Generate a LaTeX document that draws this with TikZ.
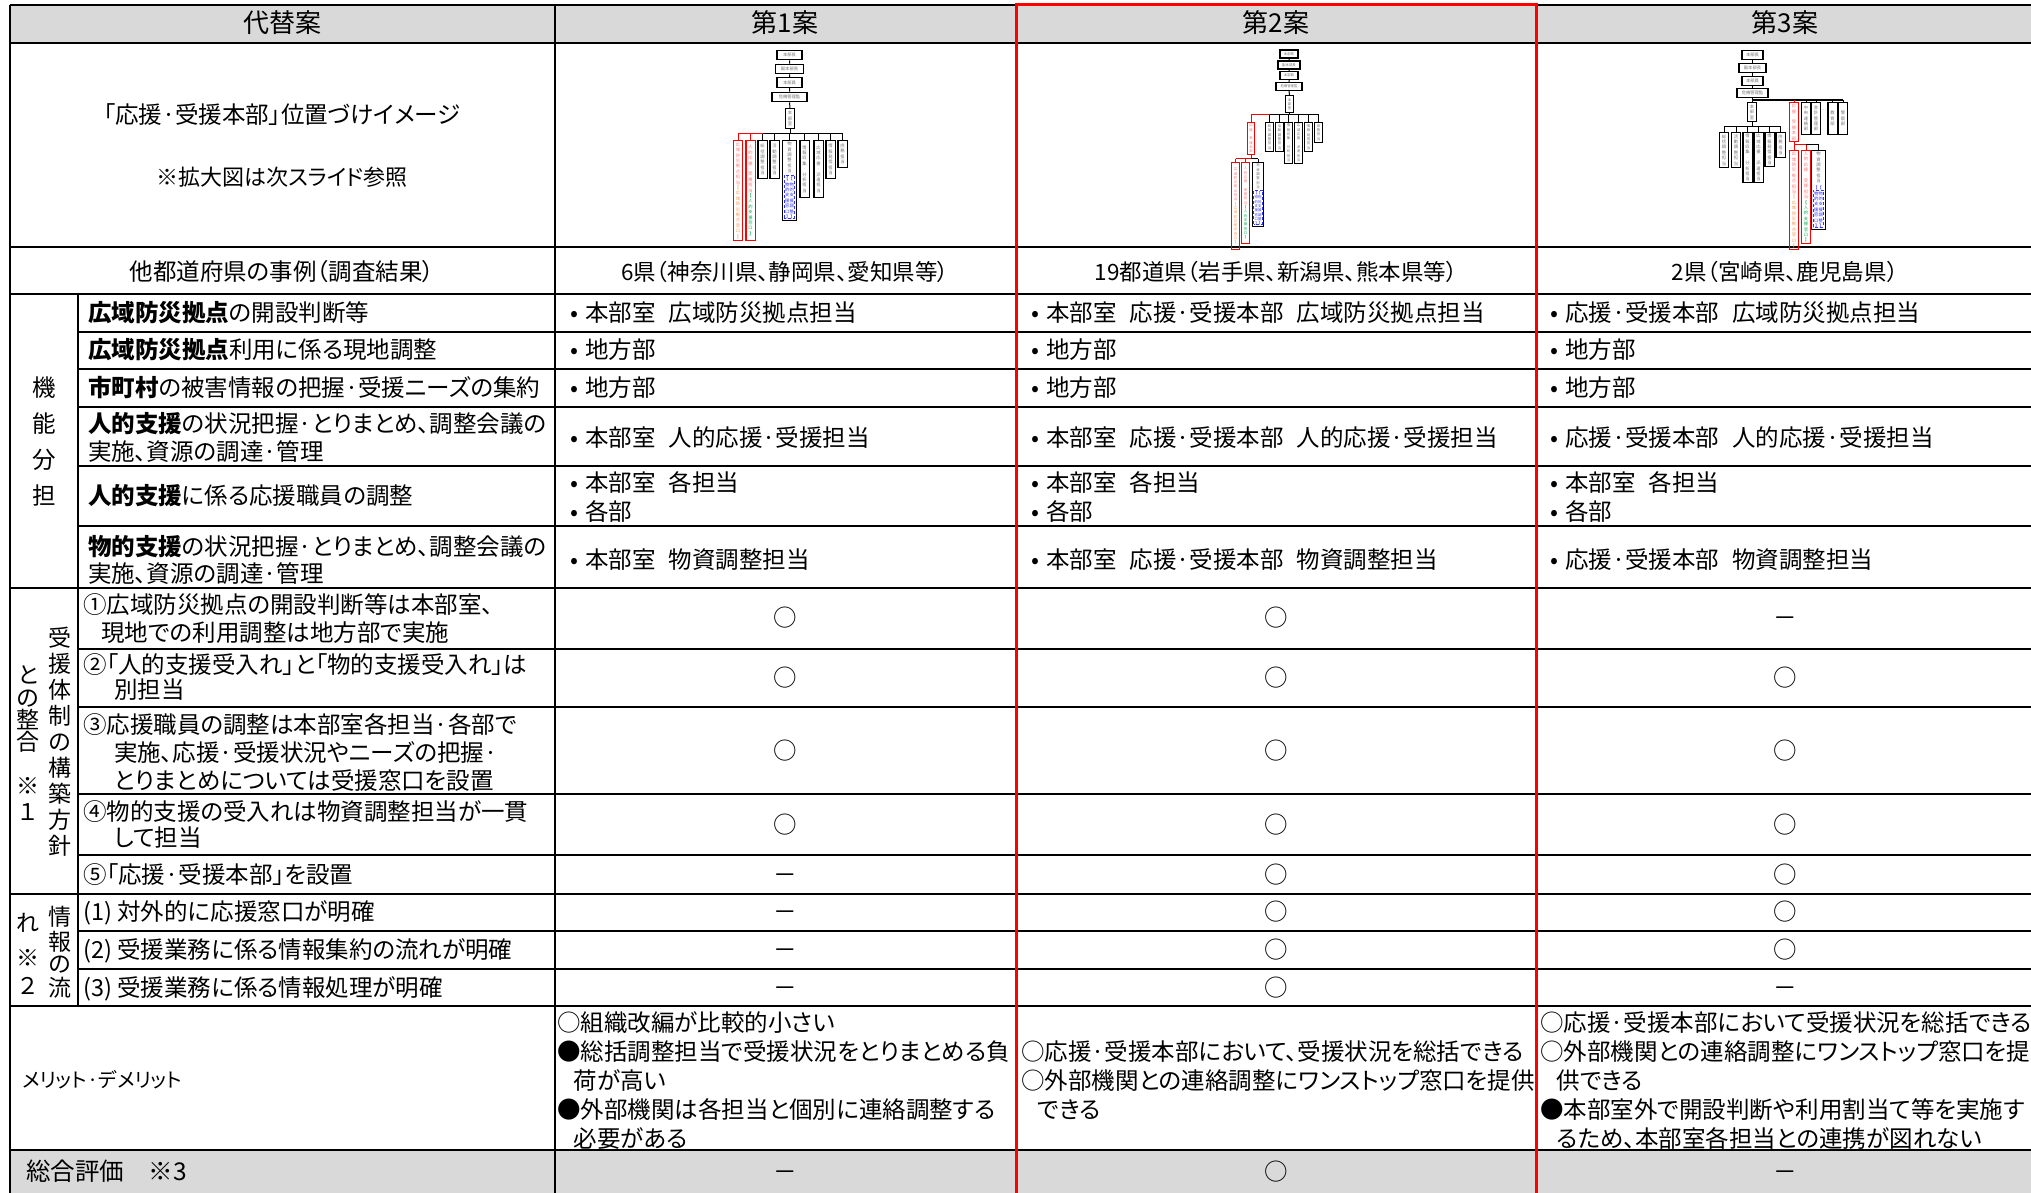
\documentclass[tikz,border=0pt]{standalone}
\usepackage{fontspec}
\setmainfont{Noto Sans CJK JP}[RawFeature={+palt}]
\usetikzlibrary{calc}
\definecolor{hdrgray}{HTML}{D9D9D9}
\definecolor{kyoten}{HTML}{F79646}
\definecolor{jinteki}{HTML}{00B050}
\definecolor{butsublue}{HTML}{3333FF}
\newcommand\gap{\hspace{0.55em}}
\newcommand\bul{•\hspace{0.3em}}
\newcommand\orgfont{\fontsize{4.3}{5.4}\selectfont}
\makeatletter
\def\tatestack#1{\tate@#1\@nil}
\def\tate@#1{\ifx#1\@nil\else\hbox to 1em{\hss#1\hss}\expandafter\tate@\fi}
\makeatother
\newcommand\tatemac[1]{\expandafter\tatestack\expandafter{#1}}
\begin{document}
\begin{tikzpicture}[
    x=1pt, y=-1pt,
    grid/.style={line width=2.6pt},
    redline/.style={line width=3pt, red},
    txt/.style={inner sep=0pt, font=\fontsize{23.5}{28}\selectfont, text height=20.5pt, text depth=3pt},
    lt/.style={txt, anchor=west},
    hd/.style={txt, font=\fontsize{26}{30}\selectfont},
    obox/.style={draw, line width=1.1pt, inner sep=0.8pt, minimum height=9.5, font=\orgfont, text=black!55},
    tbox/.style={draw, line width=1.1pt, inner xsep=2.4pt, inner ysep=1.5pt, anchor=north, font=\orgfont, text=black!55},
    tboxr/.style={tbox, draw=red, text=red!55},
    oline/.style={line width=1pt},
    bluedash/.style={draw=butsublue, line width=0.7pt, densely dashed}
  ]
  \useasboundingbox (0,0) rectangle (2031,1193);
  % Grey header and footer bands.
  \fill[hdrgray] (10,5) rectangle (2040,43);
  \fill[hdrgray] (10,1150) rectangle (2040,1196);
  % Draw the table rules.
  \foreach \y in {5,43,247,294,588,894,1006,1150}
    \draw[grid] (10,\y) -- (2040,\y);
  \foreach \y in {332,369,407,466,526,649,707,794,855,931,969}
    \draw[grid] (78,\y) -- (2040,\y);
  \draw[grid] (10,5) -- (10,1196);
  \draw[grid] (555,5) -- (555,1196);
  \draw[grid] (78,294) -- (78,1006);
  \draw[redline] (1016,1196) -- (1016,5) -- (1536,5) -- (1536,1196);

  % Header row.
  \node[hd] (altHd) at (282,24) {代替案};
  \node[hd] (an1Hd) at (785,24) {第1案};
  \node[hd] (an2Hd) at (1276,24) {第2案};
  \node[hd] (an3Hd) at (1785,24) {第3案};
  \node[txt] (imgTitle) at (282,115) {「応援·受援本部」位置づけイメージ};
  \node[txt, font=\fontsize{22}{26}\selectfont] (imgNote) at (282,177) {※拡大図は次スライド参照};
  \node[txt] (caseHd) at (282,272) {他都道府県の事例（調査結果）};
  \node[txt, font=\fontsize{22.5}{26}\selectfont] (case1) at (785,272) {6県（神奈川県、静岡県、愛知県等）};
  \node[txt, font=\fontsize{22.5}{26}\selectfont] (case2) at (1276,272) {19都道県（岩手県、新潟県、熊本県等）};
  \node[txt, font=\fontsize{22.5}{26}\selectfont] (case3) at (1785,272) {2県（宮崎県、鹿児島県）};

  % Organisation chart, plan 1.
  \foreach \n/\t/\w/\y in {p/本部長/25/55, q/副本部長/28/69, r/本部員/25/82.5, s/危機管理監/35/97}
    \node[obox, minimum width=\w] (c1\n) at (789.5,\y) {\t};
  \node[tbox, minimum height=20] (c1h) at (790,108) {\vbox{\tatestack{本部室}}};
  \node[tboxr, minimum height=100] (a1) at (738,140) {\vbox{\tatestack{広域防災拠点担当}\color{kyoten}\tatestack{【広域防災拠点窓口】}}};
  \node[tboxr, minimum height=100] (a2) at (750.5,140) {\vbox{\tatestack{人的応援·受援担当}\color{jinteki}\tatestack{【人的支援窓口】}}};
  \node[tbox, minimum height=38] (a3) at (762.5,140) {\vbox{\tatestack{総括調整担当}}};
  \node[tbox, minimum height=38] (a4) at (774.5,140) {\vbox{\tatestack{活動調整担当}}};
  \node[tbox, minimum height=78] (a5) at (789.5,140) {\vbox{\hbox to 2em{\hss\vtop{\tatestack{物資調整担当}}\hss}\kern3pt
      \hbox{\color{butsublue}\vtop{\tatestack{【物的支援窓口】}}\vtop{\tatestack{【物的支援調整】}}}}};
  \node[tbox, minimum height=57] (a6) at (804.5,140) {\vbox{\tatestack{情報収集·分析担当}}};
  \node[tbox, minimum height=57] (a7) at (818.5,140) {\vbox{\tatestack{広域応援·派遣担当}}};
  \node[tbox, minimum height=38] (a8) at (830.5,140) {\vbox{\tatestack{情報発信担当}}};
  \node[tbox, minimum height=27] (a9) at (842.5,140) {\vbox{\tatestack{庶務担当}}};
  \draw[bluedash] ($(a5.south west)+(2,-3)$) rectangle ($(a5.south east)+(-2,-46)$);
  \draw[oline] (c1p.south) -- (c1q.north) (c1q.south) -- (c1r.north)
    (c1r.south) -- (c1s.north) (c1s.south) -- (c1h.north);
  \coordinate (k1) at (790,134);
  \draw[oline] (c1h.south) -- (k1);
  \draw[oline, red] (k1 -| a1) -- (k1 -| a3);
  \draw[oline] (k1 -| a3) -- (k1 -| a9);
  \foreach \c in {a1,a2} \draw[oline, red] (k1 -| \c) -- (\c.north);
  \foreach \c in {a3,a4,a5,a6,a7,a8,a9} \draw[oline] (k1 -| \c) -- (\c.north);

  % Organisation chart, plan 2.
  \begin{scope}
    \renewcommand\orgfont{\fontsize{3.4}{4.3}\selectfont}
    \foreach \n/\t/\w/\y in {p/本部長/18/54, q/副本部長/22/65, r/本部員/18/75.5, s/危機管理監/26/86.5}
      \node[obox, minimum width=\w, minimum height=8] (c2\n) at (1289,\y) {\t};
    \node[tbox, inner xsep=2pt, minimum height=17] (c2h) at (1289.5,95) {\vbox{\tatestack{本部室}}};
    \node[tboxr, inner xsep=2pt, minimum height=31] (b1) at (1251,122) {\vbox{\tatestack{応援·受援本部}}};
    \foreach \n/\x/\h/\t in {2/1269.5/29/総括調整担当, 3/1279.5/29/活動調整担当, 4/1288.5/40/情報収集·分析担当,
        5/1298.5/40/広域応援·派遣担当, 6/1308.5/29/情報発信担当, 7/1318.5/20/庶務担当}
      \node[tbox, inner xsep=2pt, minimum height=\h] (b\n) at (\x,122) {\vbox{\tatemac{\t}}};
    \node[tboxr, inner xsep=2pt, minimum height=87] (b8) at (1235.5,162) {\vbox{\tatestack{広域防災拠点担当}\color{kyoten}\tatestack{【広域防災拠点窓口】}}};
    \node[tboxr, inner xsep=2pt, minimum height=81] (b9) at (1245.5,162) {\vbox{\tatestack{人的応援·受援担当}\color{jinteki}\tatestack{【人的支援窓口】}}};
    \node[tbox, inner xsep=2pt, minimum height=62] (b10) at (1258,162) {\vbox{\hbox to 2em{\hss\vtop{\tatestack{物資調整担当}}\hss}\kern2pt
        \hbox{\color{butsublue}\vtop{\tatestack{【物的支援窓口】}}\vtop{\tatestack{【物的支援調整】}}}}};
    \draw[bluedash] ($(b10.south west)+(1.5,-3)$) rectangle ($(b10.south east)+(-1.5,-37)$);
    \draw[oline] (c2p.south) -- (c2q.north) (c2q.south) -- (c2r.north)
      (c2r.south) -- (c2s.north) (c2s.south) -- (c2h.north);
    \coordinate (k2) at (1289.5,115);
    \draw[oline] (c2h.south) -- (k2);
    \draw[oline, red] (k2 -| b1) -- (k2 -| b2);
    \draw[oline] (k2 -| b2) -- (k2 -| b7);
    \draw[oline, red] (k2 -| b1) -- (b1.north);
    \foreach \c in {b2,b3,b4,b5,b6,b7} \draw[oline] (k2 -| \c) -- (\c.north);
    \coordinate (k2b) at (1251,159);
    \draw[oline, red] (b1.south) -- (k2b) (k2b -| b8) -- (k2b);
    \draw[oline] (k2b) -- (k2b -| b10);
    \foreach \c in {b8,b9} \draw[oline, red] (k2b -| \c) -- (\c.north);
    \draw[oline] (k2b -| b10) -- (b10.north);
  \end{scope}

  % Organisation chart, plan 3.
  \foreach \n/\t/\w/\y in {p/本部長/21/55, q/副本部長/27/68, r/本部員/21/81, s/危機管理監/31/93}
    \node[obox, minimum width=\w] (c3\n) at (1752.5,\y) {\t};
  \node[tbox, minimum height=19] (d0) at (1752,102) {\vbox{\tatestack{本部室}}};
  \node[tboxr, minimum height=38] (d1) at (1794,102) {\vbox{\tatestack{応援·受援本部}}};
  \foreach \n/\x/\t in {2/1806/中央連絡部, 3/1816/会計管理部, 4/1832.5/教育部, 5/1843/警察部}
    \node[tbox, minimum height=32] (d\n) at (\x,102) {\vbox{\tatemac{\t}}};
  \node[inner sep=0pt, font=\orgfont, text=black!55] (d9) at (1824,110) {…};
  \foreach \n/\x/\h/\t in {1/1724/35/総括調整担当, 2/1736/35/活動調整担当, 3/1747.5/48/情報収集·分析担当,
      4/1758.5/48/広域応援·派遣担当, 5/1769.5/33/情報発信担当, 6/1780.5/25/庶務担当}
    \node[tbox, minimum height=\h] (e\n) at (\x,132) {\vbox{\tatemac{\t}}};
  \node[tboxr, minimum height=90] (f1) at (1794,150) {\vbox{\tatestack{広域防災拠点担当}\color{kyoten}\tatestack{【広域防災拠点窓口】}}};
  \node[tboxr, minimum height=90] (f2) at (1806,150) {\vbox{\tatestack{人的応援·受援担当}\color{jinteki}\tatestack{【人的支援窓口】}}};
  \node[tbox, minimum height=70] (f3) at (1818.5,150) {\vbox{\hbox to 2em{\hss\vtop{\tatestack{物資調整担当}}\hss}\kern2pt
      \hbox{\color{butsublue}\vtop{\tatestack{【物的支援窓口】}}\vtop{\tatestack{【物的支援調整】}}}}};
  \draw[bluedash] ($(f3.south west)+(2,-3)$) rectangle ($(f3.south east)+(-2,-40)$);
  \draw[oline] (c3p.south) -- (c3q.north) (c3q.south) -- (c3r.north) (c3r.south) -- (c3s.north);
  \coordinate (k3) at (1752,100);
  \draw[oline] (c3s.south) -- (k3 -| c3s);
  \draw[oline, line width=1.5pt] (k3) -- (k3 -| d5);
  \foreach \c in {d0,d2,d3,d4,d5} \draw[oline] (k3 -| \c) -- (\c.north);
  \draw[oline, red] (k3 -| d1) -- (d1.north);
  \coordinate (k3a) at (1752,127);
  \draw[oline] (d0.south) -- (k3a) (k3a -| e1) -- (k3a -| e6);
  \foreach \c in {e1,e2,e3,e4,e5,e6} \draw[oline] (k3a -| \c) -- (\c.north);
  \coordinate (k3b) at (1794,145);
  \draw[oline, red] (d1.south) -- (k3b) -- (k3b -| f2);
  \draw[oline] (k3b -| f2) -- (k3b -| f3);
  \foreach \c in {f1,f2} \draw[oline, red] (k3b -| \c) -- (\c.north);
  \draw[oline] (k3b -| f3) -- (f3.north);

  % Function sharing rows.
  \foreach \c [count=\i] in {機,能,分,担}
    \node[txt] (kino\i) at (44,352+36*\i) {\c};
  \node[lt] (fn1) at (88,313) {\textbf{広域防災拠点}の開設判断等};
  \node[lt] (fn2) at (88,350) {\textbf{広域防災拠点}利用に係る現地調整};
  \node[lt] (fn3) at (88,388) {\textbf{市町村}の被害情報の把握·受援ニーズの集約};
  \node[lt] (fn4a) at (88,424) {\textbf{人的支援}の状況把握·とりまとめ、調整会議の};
  \node[lt] (fn4b) at (88,452) {実施、資源の調達·管理};
  \node[lt] (fn5) at (88,496) {\textbf{人的支援}に係る応援職員の調整};
  \node[lt] (fn6a) at (88,547) {\textbf{物的支援}の状況把握·とりまとめ、調整会議の};
  \node[lt] (fn6b) at (88,574) {実施、資源の調達·管理};
  \foreach \x/\t [count=\i] in {570/本部室\gap 広域防災拠点担当, 1031/本部室\gap 応援·受援本部\gap 広域防災拠点担当,
      1550/応援·受援本部\gap 広域防災拠点担当}
    \node[lt] (ra\i) at (\x,313) {\bul\t};
  \foreach \x [count=\i] in {570,1031,1550} {
    \node[lt] (rb\i) at (\x,350) {\bul 地方部};
    \node[lt] (rc\i) at (\x,388) {\bul 地方部};
    \node[lt] (re\i) at (\x,483) {\bul 本部室\gap 各担当};
    \node[lt] (rf\i) at (\x,512) {\bul 各部};
  }
  \foreach \x/\t [count=\i] in {570/本部室\gap 人的応援·受援担当, 1031/本部室\gap 応援·受援本部\gap 人的応援·受援担当,
      1550/応援·受援本部\gap 人的応援·受援担当}
    \node[lt] (rd\i) at (\x,438) {\bul\t};
  \foreach \x/\t [count=\i] in {570/本部室\gap 物資調整担当, 1031/本部室\gap 応援·受援本部\gap 物資調整担当,
      1550/応援·受援本部\gap 物資調整担当}
    \node[lt] (rg\i) at (\x,560) {\bul\t};

  % Policy and information-flow rows.
  \foreach \c [count=\i] in {受,援,体,制,の,構,築,方,針}
    \node[txt, font=\fontsize{23}{26}\selectfont] (uke\i) at (60,612+26*\i) {\c};
  \foreach \c/\y [count=\i] in {と/675, の/698, 整/720, 合/742, ※/786, １/812}
    \node[txt, font=\fontsize{23}{26}\selectfont] (sei\i) at (28,\y) {\c};
  \foreach \c/\y [count=\i] in {情/917, 報/942, の/964, 流/988}
    \node[txt, font=\fontsize{23}{26}\selectfont] (joho\i) at (60,\y) {\c};
  \foreach \c/\y [count=\i] in {れ/923, ※/958, ２/986}
    \node[txt, font=\fontsize{23}{26}\selectfont] (nag\i) at (28,\y) {\c};
  \node[lt] (pl1a) at (83,605) {①広域防災拠点の開設判断等は本部室、};
  \node[lt] (pl1b) at (101,633) {現地での利用調整は地方部で実施};
  \node[lt] (pl2a) at (83,665) {②「人的支援受入れ」と「物的支援受入れ」は};
  \node[lt] (pl2b) at (114,690) {別担当};
  \node[lt] (pl3a) at (83,725) {③応援職員の調整は本部室各担当·各部で};
  \node[lt] (pl3b) at (114,753) {実施、応援·受援状況やニーズの把握·};
  \node[lt] (pl3c) at (114,781) {とりまとめについては受援窓口を設置};
  \node[lt] (pl4a) at (83,812) {④物的支援の受入れは物資調整担当が一貫};
  \node[lt] (pl4b) at (114,838) {して担当};
  \node[lt] (pl5) at (83,875) {⑤「応援·受援本部」を設置};
  \node[lt] (if1) at (83,912) {(1) 対外的に応援窓口が明確};
  \node[lt] (if2) at (83,950) {(2) 受援業務に係る情報集約の流れが明確};
  \node[lt] (if3) at (83,988) {(3) 受援業務に係る情報処理が明確};
  \foreach \y/\a/\b/\c [count=\i] in {618/○/○/－, 678/○/○/○, 751/○/○/○, 825/○/○/○,
      875/－/○/○, 912/－/○/○, 950/－/○/○, 988/－/○/－} {
    \node[txt] (mkA\i) at (785,\y) {\a};
    \node[txt] (mkB\i) at (1276,\y) {\b};
    \node[txt] (mkC\i) at (1785,\y) {\c};
  }

  % Merits and demerits.
  \node[lt, font=\fontsize{20}{24}\selectfont] (merHd) at (22,1079) {メリット·デメリット};
  \foreach \t [count=\i] in {○組織改編が比較的小さい, ●総括調整担当で受援状況をとりまとめる負, \hspace{0.7em}荷が高い,
      ●外部機関は各担当と個別に連絡調整する, \hspace{0.7em}必要がある}
    \node[lt] (merA\i) at (557,994+29*\i) {\t};
  \foreach \t [count=\i] in {○応援·受援本部において、受援状況を総括できる, ○外部機関との連絡調整にワンストップ窓口を提供,
      \hspace{0.7em}できる}
    \node[lt] (merB\i) at (1021,1023+29*\i) {\t};
  \foreach \t [count=\i] in {○応援·受援本部において受援状況を総括できる, ○外部機関との連絡調整にワンストップ窓口を提,
      \hspace{0.7em}供できる, ●本部室外で開設判断や利用割当て等を実施す, \hspace{0.7em}るため、本部室各担当との連携が図れない}
    \node[lt] (merC\i) at (1540,994+29*\i) {\t};

  % Overall rating.
  \node[lt, font=\fontsize{24.5}{28}\selectfont] (totHd) at (26,1172) {総合評価　※3};
  \node[txt] (tot1) at (785,1172) {－};
  \node[txt] (tot2) at (1276,1172) {○};
  \node[txt] (tot3) at (1785,1172) {－};
\end{tikzpicture}
\end{document}
